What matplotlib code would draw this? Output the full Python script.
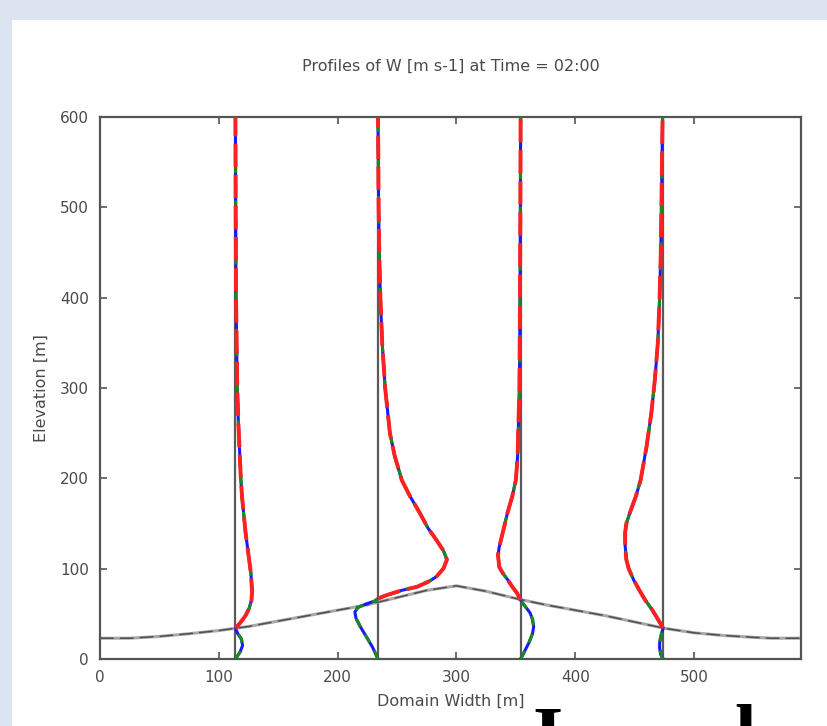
import matplotlib
matplotlib.use('Agg')
import matplotlib.pyplot as plt
from matplotlib.patches import Rectangle
import numpy as np

# profile base positions [m] along the domain
x_prof = [114, 234, 354, 474]

# terrain (hill) elevation
terrain_x = [0, 25, 50, 75, 100, 125, 150, 175, 200, 225, 250, 275, 300,
             325, 350, 375, 400, 425, 450, 475, 500, 525, 550, 565, 590]
terrain_z = [23, 23, 25, 28, 31.5, 36, 42, 48, 54, 60, 68, 76, 81,
             75, 67, 60, 54, 48, 41, 34, 29, 26, 24, 23, 23]

# W profiles, drawn as horizontal displacement from each base position
z1 = [0, 8, 15, 22, 28, 34, 40, 48, 56, 65, 75, 85, 95, 110, 125, 140, 160,
      180, 200, 230, 260, 300, 350, 400, 500, 600]
w1 = [0, 4, 6, 5, 2, 0, 4, 8.5, 11.5, 13.5, 14, 13.5, 13, 11.5, 10, 8.5, 7,
      5.5, 4.5, 3.5, 2.5, 1.5, 1, 0.5, 0.2, 0]
z2 = [0, 14, 25, 36, 45, 52, 57, 61, 64, 67, 71, 76, 80, 86, 91, 100, 110,
      120, 132, 145, 162, 180, 198, 225, 250, 300, 350, 400, 450, 500, 600]
w2 = [0, -5, -10, -15, -18.5, -19.5, -17, -10, -3, 0, 8, 20, 33, 43, 49, 55,
      58, 55, 49, 42, 35, 27, 20, 14, 10, 6, 3.5, 2, 1, 0.5, 0]
z3 = [0, 5, 18, 28, 36, 44, 51, 58, 65, 73, 80, 88, 95, 102, 115, 124, 140,
      162, 180, 198, 225, 250, 300, 400, 500, 600]
w3 = [0, 2, 7, 10, 11, 10, 8, 4, 0, -3, -7, -11, -15, -18, -19, -18, -15,
      -11, -7, -4, -2.5, -2, -1, -0.5, -0.2, 0]
z4 = [0, 5, 12, 18, 25, 30, 34, 43, 54, 65, 76, 88, 100, 110, 125, 140, 150,
      162, 180, 198, 235, 272, 309, 350, 400, 450, 500, 550, 600]
w4 = [0, -2, -3, -3, -2, -1, 0, -4, -9, -15, -20, -25, -29, -31, -32, -32, -31,
      -28, -23, -19, -14, -10, -7, -4.5, -3, -2, -1.5, -1, -0.5]

# elevation where each profile meets the terrain (red series starts there)
z_ground = [34, 67, 65, 34]

profiles = [(z1, w1), (z2, w2), (z3, w3), (z4, w4)]

txt = '#4a4a4a'
plt.rcParams['font.family'] = ['DejaVu Sans']

fig = plt.figure(figsize=(8.27, 7.26), dpi=100, facecolor='#dbe4f0')
fig.patches.append(Rectangle((12 / 827, 0), 1, 1 - 20 / 726, transform=fig.transFigure,
                             facecolor='white', edgecolor='none', zorder=-10))
ax = fig.add_axes([100 / 827, 1 - 659 / 726, 701 / 827, 542 / 726])
ax.set_zorder(1)

for x0 in x_prof:
    ax.plot([x0, x0], [0, 600], color='#5a5a5a', lw=1.6, zorder=1)
ax.plot(terrain_x, terrain_z, color='#a8a8a8', lw=2.2, zorder=2)
ax.plot(terrain_x, terrain_z, color='#505050', lw=1.1, ls=(0, (9, 4)), zorder=2)

for x0, (z, w), zg in zip(x_prof, profiles, z_ground):
    z = np.array(z, dtype=float)
    x = x0 + np.array(w, dtype=float)
    ax.plot(x, z, color='#1a1aff', lw=2.2, zorder=3)
    ax.plot(x, z, color='#1a8a1a', lw=2.2, ls=(0, (3, 3)), zorder=4)
    above = z >= zg
    ax.plot(x[above], z[above], color='#ff2020', lw=2.8, ls=(0, (6, 2)), zorder=5)

ax.set_xlim(0, 590)
ax.set_ylim(0, 600)
ax.set_xticks([0, 100, 200, 300, 400, 500])
ax.set_yticks([0, 100, 200, 300, 400, 500, 600])
ax.tick_params(direction='in', length=5, width=1.2, colors='#555555',
               labelcolor=txt, labelsize=11, top=True, right=True, pad=8)
for s in ax.spines.values():
    s.set_color('#555555')
    s.set_linewidth(1.6)

ax.set_title('Profiles of W [m s-1] at Time = 02:00', color=txt, fontsize=11.5, pad=33)
ax.set_xlabel('Domain Width [m]', color=txt, fontsize=11.5, labelpad=6)
ax.set_ylabel('Elevation [m]', color=txt, fontsize=11.5, labelpad=8)

# large heading text cut off at the bottom edge
fig.text(532 / 827, 1 - 706 / 726, 'I', family='Liberation Serif', weight='bold',
         fontsize=56, color='black', va='top', ha='left')
fig.text(735 / 827, 1 - 704 / 726, 'l', family='Liberation Serif', weight='bold',
         fontsize=56, color='black', va='top', ha='left')

fig.savefig('out.png', dpi=100, facecolor=fig.get_facecolor())
